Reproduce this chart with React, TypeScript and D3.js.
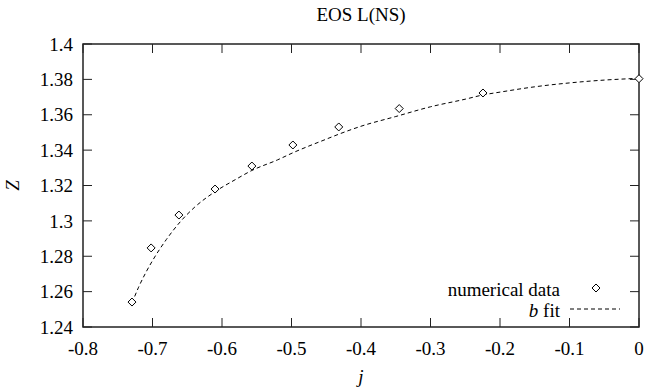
import * as d3 from 'd3';

// numerical data
const dataJ = [-0.7295, -0.702, -0.662, -0.610, -0.557, -0.498, -0.432, -0.345, -0.2245, 0];
const dataZ = [1.2541, 1.2847, 1.3033, 1.318, 1.331, 1.3429, 1.3531, 1.3635, 1.3723, 1.3804];

// b fit curve samples
const fitJ = [-0.7295, -0.72, -0.71, -0.70, -0.68, -0.66, -0.64, -0.61, -0.58, -0.557, -0.52, -0.498, -0.45, -0.432, -0.40, -0.35, -0.30, -0.25, -0.2245, -0.20, -0.15, -0.10, -0.05, 0];
const fitZ = [1.2535, 1.2625, 1.2705, 1.2775, 1.2895, 1.2995, 1.3075, 1.3165, 1.3235, 1.3285, 1.3345, 1.3385, 1.3462, 1.349, 1.3535, 1.359, 1.3645, 1.3688, 1.3712, 1.3728, 1.3758, 1.378, 1.3796, 1.3806];

const xTicks = ['-0.8', '-0.7', '-0.6', '-0.5', '-0.4', '-0.3', '-0.2', '-0.1', '0'];
const yTicks = ['1.24', '1.26', '1.28', '1.3', '1.32', '1.34', '1.36', '1.38', '1.4'];

const W = 646, H = 392;
const L = 83, R = 639, T = 44, B = 327;
const FONT = 'Liberation Serif, DejaVu Serif, serif';
const FS = 19;
const INK = '#222';

function Diamond({ cx, cy }: { cx: number; cy: number }) {
  const r = 4;
  return (
    <path
      d={`M${cx},${cy - r}L${cx + r},${cy}L${cx},${cy + r}L${cx - r},${cy}Z`}
      fill="white" stroke="black" strokeWidth={1}
    />
  );
}

export default function App() {
  const x = d3.scaleLinear().domain([-0.8, 0]).range([L, R]);
  const y = d3.scaleLinear().domain([1.24, 1.4]).range([B, T]);

  const fitPts = fitJ.map((j, i) => [j, fitZ[i]] as [number, number]);
  const line = d3.line<[number, number]>()
    .x(d => x(d[0]))
    .y(d => y(d[1]))
    .curve(d3.curveMonotoneX);

  const tk = 9;
  const txt = { fontFamily: FONT, fontSize: FS };

  return (
    <div style={{ position: 'absolute', left: 0, top: 0 }}>
      <svg width={W} height={H} style={{ display: 'block', background: 'white' }}>
        {/* title */}
        <text x={(L + R) / 2} y={21} textAnchor="middle" style={txt}>EOS L(NS)</text>

        {/* ticks, mirrored on all sides */}
        {xTicks.map(t => (
          <g key={'x' + t}>
            <line x1={x(+t)} x2={x(+t)} y1={B} y2={B - tk} stroke={INK} strokeWidth={1} />
            <line x1={x(+t)} x2={x(+t)} y1={T} y2={T + tk} stroke={INK} strokeWidth={1} />
            <text x={x(+t)} y={355} textAnchor="middle" style={txt}>{t}</text>
          </g>
        ))}
        {yTicks.map(t => (
          <g key={'y' + t}>
            <line x1={L} x2={L + tk} y1={y(+t)} y2={y(+t)} stroke={INK} strokeWidth={1} />
            <line x1={R} x2={R - tk} y1={y(+t)} y2={y(+t)} stroke={INK} strokeWidth={1} />
            <text x={73} y={y(+t)} dy="0.35em" textAnchor="end" style={txt}>{t}</text>
          </g>
        ))}

        {/* frame */}
        <rect x={L} y={T} width={R - L} height={B - T} fill="none" stroke={INK} strokeWidth={1.5} />

        {/* axis labels */}
        <text x={(L + R) / 2} y={383} textAnchor="middle" style={{ ...txt, fontStyle: 'italic' }}>j</text>
        <text transform={`translate(19,${(T + B) / 2}) rotate(-90)`} textAnchor="middle" style={{ ...txt, fontStyle: 'italic' }}>Z</text>

        {/* fit */}
        <path d={line(fitPts) ?? ''} fill="none" stroke="black" strokeWidth={1} strokeDasharray="4,3" />

        {/* data points */}
        {dataJ.map((j, i) => (
          <Diamond key={i} cx={x(j)} cy={y(dataZ[i])} />
        ))}

        {/* legend */}
        <text x={560} y={289} dy="0.35em" textAnchor="end" style={txt}>numerical data</text>
        <Diamond cx={596} cy={288} />
        <text x={560} y={310} dy="0.35em" textAnchor="end" style={txt}>
          <tspan fontStyle="italic">b</tspan> fit
        </text>
        <line x1={570} x2={620} y1={309} y2={309} stroke="black" strokeWidth={1} strokeDasharray="4,3" />
      </svg>
    </div>
  );
}
